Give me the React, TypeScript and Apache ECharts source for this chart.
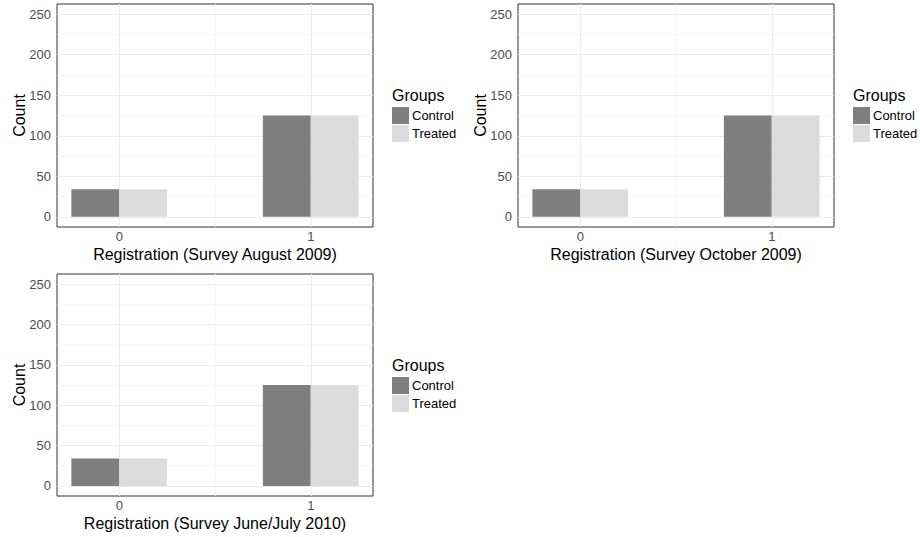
import React, { useEffect, useRef } from "react";
import * as echarts from "echarts";

// ---- data ----
const groups = ["Control", "Treated"];
const xValues = [0, 1];
const surveyTitles = [
  "Registration (Survey August 2009)",
  "Registration (Survey October 2009)",
  "Registration (Survey June/July 2010)",
];
const augControl = [34, 125];
const augTreated = [34, 125];
const octControl = [34, 125];
const octTreated = [34, 125];
const junControl = [34, 125];
const junTreated = [34, 125];
const yTicks = [0, 50, 100, 150, 200, 250];
const yMinor = [25, 75, 125, 175, 225];
const xTicks = [0, 1];
const xMinor = [0.5];

const panelData = [
  [augControl, augTreated],
  [octControl, octTreated],
  [junControl, junTreated],
];

const FONT = "Liberation Sans, Arial, Helvetica, sans-serif";
const colors = ["#7f7f7f", "#dcdcdc"];
const barW = 0.25;

const panels = [
  { left: 57, top: 4, height: 223 },
  { left: 518, top: 4, height: 223 },
  { left: 57, top: 274, height: 222 },
];

export default function App() {
  const ref = useRef<HTMLDivElement>(null);
  useEffect(() => {
    if (!ref.current) return;
    const chart = echarts.init(ref.current, undefined, { renderer: "svg" });
    const grid: any[] = [];
    const xAxis: any[] = [];
    const yAxis: any[] = [];
    const series: any[] = [];
    const legend: any[] = [];
    const graphic: any[] = [];

    panels.forEach((p, i) => {
      grid.push({
        left: p.left,
        top: p.top,
        width: 316,
        height: p.height,
        show: true,
        borderColor: "#333333",
        borderWidth: 1,
        backgroundColor: "#ffffff",
        z: 0,
      });
      xAxis.push({
        type: "value",
        gridIndex: i,
        min: -0.325,
        max: 1.325,
        axisLine: { show: false },
        splitLine: { show: false },
        axisTick: { show: true, length: 4, customValues: xTicks, lineStyle: { color: "#333333" } },
        axisLabel: {
          customValues: xTicks,
          margin: 3,
          color: "#4d4d4d",
          fontSize: 13,
          fontFamily: FONT,
        },
        name: surveyTitles[i],
        nameLocation: "middle",
        nameGap: 19,
        nameMoveOverlap: false,
        nameTextStyle: { color: "#000000", fontSize: 16, fontFamily: FONT },
      });
      yAxis.push({
        type: "value",
        gridIndex: i,
        min: -12.5,
        max: 262.5,
        axisLine: { show: false },
        splitLine: { show: false },
        axisTick: { show: true, length: 4, customValues: yTicks, lineStyle: { color: "#333333" } },
        axisLabel: {
          customValues: yTicks,
          margin: 6,
          color: "#4d4d4d",
          fontSize: 13,
          fontFamily: FONT,
        },
        name: "Count",
        nameLocation: "middle",
        nameGap: 30,
        nameMoveOverlap: false,
        nameRotate: 90,
        nameTextStyle: { color: "#000000", fontSize: 16, fontFamily: FONT },
      });

      groups.forEach((g, gi) => {
        const vals = panelData[i][gi];
        const s: any = {
          type: "custom",
          name: g,
          xAxisIndex: i,
          yAxisIndex: i,
          z: 2,
          itemStyle: { color: colors[gi] },
          data: xValues.map((x, k) => [x, vals[k]]),
          renderItem: (params: any, api: any) => {
            const x = api.value(0);
            const y = api.value(1);
            const off = gi === 0 ? -barW : 0;
            const p0 = api.coord([x + off, y]);
            const p1 = api.coord([x + off + barW, 0]);
            return {
              type: "rect",
              shape: { x: p0[0], y: p0[1], width: p1[0] - p0[0], height: p1[1] - p0[1] },
              style: { fill: colors[gi] },
            };
          },
        };
        if (gi === 0) {
          const lineData: any[] = [];
          yMinor.forEach((v) =>
            lineData.push({ yAxis: v, lineStyle: { color: "#f3f3f3", width: 0.7, type: "solid" } })
          );
          xMinor.forEach((v) =>
            lineData.push({ xAxis: v, lineStyle: { color: "#f3f3f3", width: 0.7, type: "solid" } })
          );
          yTicks.forEach((v) =>
            lineData.push({ yAxis: v, lineStyle: { color: "#ebebeb", width: 1.1, type: "solid" } })
          );
          xTicks.forEach((v) =>
            lineData.push({ xAxis: v, lineStyle: { color: "#ebebeb", width: 1.1, type: "solid" } })
          );
          s.markLine = {
            silent: true,
            z: 1,
            symbol: ["none", "none"],
            label: { show: false },
            emphasis: { disabled: true },
            animation: false,
            data: lineData,
          };
        }
        series.push(s);
      });

      const lx = p.left + 316 + 19;
      const titleY = p.top + 92;
      graphic.push({
        type: "text",
        left: lx,
        top: titleY - 9,
        style: { text: "Groups", fill: "#000000", font: `16px ${FONT}` },
      });
      legend.push({
        orient: "vertical",
        left: lx,
        top: p.top + 103,
        itemWidth: 17,
        itemHeight: 17,
        itemGap: 1,
        icon: "rect",
        selectedMode: false,
        padding: 0,
        textStyle: { fontSize: 13, fontFamily: FONT, color: "#000000", padding: [0, 0, 0, -2] },
        data: groups,
      });
    });

    chart.setOption({
      animation: false,
      backgroundColor: "#ffffff",
      grid,
      xAxis,
      yAxis,
      series,
      legend,
      graphic,
    });
    return () => chart.dispose();
  }, []);
  return (
    <div
      ref={ref}
      style={{ position: "fixed", left: 0, top: 0, width: 920, height: 537, background: "#fff" }}
    />
  );
}
